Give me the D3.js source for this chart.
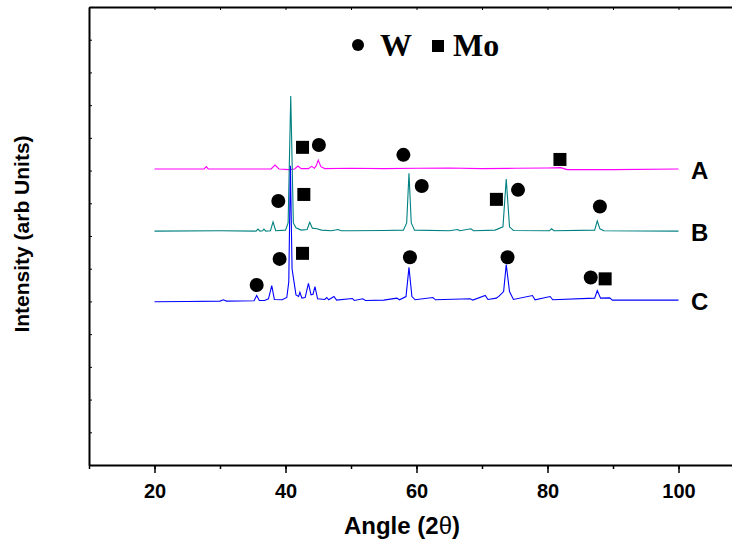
<!DOCTYPE html>
<html>
<head>
<meta charset="utf-8">
<script src="https://cdn.jsdelivr.net/npm/d3@7"></script>
<style>
    body { margin: 0; background: #fff; }
    svg { display: block; }
    .axis path, .axis line { stroke: #000; }
    .axis text { font-family: "Liberation Sans", Arial, sans-serif; font-weight: bold; font-size: 20px; fill: #000; }
</style>
</head>
<body>
<div id="xrd"></div>
<script>
// patterns: [angle 2theta, intensity (arb)]
var seriesA = [[20,905],[27.6,905],[27.9,912],[28.2,905],[37.8,905],[38.4,917],[39.0,905],[40.5,903],[41.4,905],
    [41.9,914],[42.4,906],[43.5,906],[44.0,913],[44.4,907],[44.7,915],[45.0,932],[45.4,912],[46,906],[50,907],
    [55,906],[60,907],[65,908],[70,906],[75,907],[80,908],[82,909],[83,903],[90,903],[100,905]];

var seriesB = [[20,715],[30,716],[35.5,715],[35.8,721],[36.1,715],[36.5,716],[36.7,721],[37.0,715],[37.7,716],
    [38.1,743],[38.5,716],[40.0,718],[40.4,740],[40.8,1128],[41.2,740],[41.6,725],[42.4,718],[43.3,720],[43.7,742],
    [44.1,724],[44.8,722],[45.5,718],[47,716],[48,720],[48.5,716],[50,716],[55,717],[58.0,718],[58.5,740],
    [58.85,892],[59.2,740],[59.7,718],[65,716],[66.3,720],[66.6,716],[68.3,722],[68.7,716],[72,718],[73.2,728],
    [73.7,874],[74.2,728],[74.8,717],[80.3,716],[80.6,722],[81,716],[87.2,718],[87.6,746],[88.0,722],[88.6,716],
    [100,715]];

var seriesC = [[20,499],[25,500],[30,501],[30.5,505],[31,501],[35.2,502],[35.6,518],[36.0,503],[36.8,503],
    [37.4,508],[37.9,548],[38.3,506],[39.5,505],[40.2,512],[40.5,560],[40.75,915],[41.0,600],[41.3,560],
    [41.6,520],[42.0,515],[42.2,528],[42.5,510],[43.0,512],[43.5,555],[43.9,520],[44.2,522],[44.5,545],
    [44.9,508],[46,506],[46.3,512],[46.6,505],[47.4,515],[47.8,504],[50.2,509],[50.5,503],[51.8,508],
    [52.2,503],[55,504],[57.0,510],[57.4,505],[58.4,515],[58.85,604],[59.3,515],[59.8,505],[62.5,512],
    [62.9,505],[68.2,508],[68.6,504],[70.5,518],[70.9,506],[72.2,510],[72.6,516],[73.3,530],[73.7,613],
    [74.2,530],[74.8,506],[77.7,518],[78.1,505],[80.4,515],[80.8,505],[87.2,510],[87.6,533],[88.1,510],
    [89.5,511],[89.9,504],[100,504]];

var seriesNames = ['A', 'B', 'C'];
var seriesColors = ['#ff00ff', '#008080', '#0000ff'];
var seriesBase = [905, 715, 503];

// phase markers
var wMarks = [[45.1,978],[58.0,948],[38.9,807],[60.8,853],[75.5,841],[88.0,790],
    [35.6,550],[39.1,630],[59.0,635],[73.9,635],[86.6,573]];
var moMarks = [[42.6,971],[81.9,934],[42.8,827],[72.2,812],[42.6,647],[88.8,569]];

var xTicks = [20, 40, 60, 80, 100];
var xMinor = d3.range(10, 111, 10);
var yTicks = d3.range(0, 1401, 100);

var width = 732, height = 540;
var svg = d3.select('#xrd')
    .append('svg')
    .attr('width', width)
    .attr('height', height);

var x = d3.scaleLinear().domain([10, 110]).range([89, 744]);
var y = d3.scaleLinear().domain([0, 1400]).range([465, 7]);

// frame: bottom minor, bottom major, top, left
svg.append('g')
    .attr('class', 'axis')
    .attr('transform', 'translate(0,' + y(0) + ')')
    .call(d3.axisBottom(x).tickValues(xMinor).tickSize(4).tickFormat(''))
    .call(g => g.select('.domain').remove())
    .selectAll('line').attr('stroke-width', 1.5);

svg.append('g')
    .attr('class', 'axis')
    .attr('transform', 'translate(0,' + y(0) + ')')
    .call(d3.axisBottom(x).tickValues(xTicks).tickSizeInner(8).tickSizeOuter(0).tickFormat(d3.format('d')))
    .call(g => g.select('.domain').attr('stroke-width', 2))
    .call(g => g.selectAll('line').attr('stroke-width', 1.5))
    .call(g => g.selectAll('text').attr('dy', 0).attr('y', 33));

svg.append('g')
    .attr('class', 'axis')
    .attr('transform', 'translate(0,' + y(1400) + ')')
    .call(d3.axisTop(x).tickValues(xMinor).tickSizeInner(-3).tickSizeOuter(0).tickFormat(''))
    .call(g => g.select('.domain').attr('stroke-width', 2));

svg.append('g')
    .attr('class', 'axis')
    .attr('transform', 'translate(' + x(10) + ',0)')
    .call(d3.axisLeft(y).tickValues(yTicks).tickSizeInner(-3).tickSizeOuter(0).tickFormat(''))
    .call(g => g.select('.domain').attr('stroke-width', 2));

// patterns
var line = d3.line()
    .x(function (d) { return x(d[0]); })
    .y(function (d) { return y(d[1]); });

[seriesA, seriesB, seriesC].forEach(function (s, i) {
    svg.append('path')
        .datum(s)
        .attr('fill', 'none')
        .attr('stroke', seriesColors[i])
        .attr('stroke-width', 1.1)
        .attr('d', line);
});

// labels A B C
svg.selectAll('.slabel')
    .data(seriesNames)
    .enter()
    .append('text')
    .attr('class', 'slabel')
    .attr('x', 691)
    .attr('y', function (d, i) { return y(seriesBase[i]) + 10; })
    .attr('font-family', '"Liberation Sans", Arial, sans-serif')
    .attr('font-weight', 'bold')
    .attr('font-size', 24)
    .text(d => d);

// markers
svg.selectAll('.wmark')
    .data(wMarks)
    .enter()
    .append('circle')
    .attr('cx', d => x(d[0]))
    .attr('cy', d => y(d[1]))
    .attr('r', 7)
    .attr('fill', '#000');

svg.selectAll('.momark')
    .data(moMarks)
    .enter()
    .append('rect')
    .attr('x', d => x(d[0]) - 6.5)
    .attr('y', d => y(d[1]) - 6.5)
    .attr('width', 13)
    .attr('height', 13)
    .attr('fill', '#000');

// legend
var legend = svg.append('g');
legend.append('circle').attr('cx', 358).attr('cy', 45).attr('r', 6).attr('fill', '#000');
legend.append('text').attr('x', 380).attr('y', 56)
    .attr('font-family', '"Liberation Serif", "Times New Roman", serif')
    .attr('font-weight', 'bold').attr('font-size', 32).text('W');
legend.append('rect').attr('x', 432).attr('y', 40).attr('width', 12).attr('height', 12).attr('fill', '#000');
legend.append('text').attr('x', 453).attr('y', 56)
    .attr('font-family', '"Liberation Serif", "Times New Roman", serif')
    .attr('font-weight', 'bold').attr('font-size', 32).text('Mo');

// axis titles
var xTitle = svg.append('text')
    .attr('x', 402)
    .attr('y', 534)
    .attr('text-anchor', 'middle')
    .attr('font-family', '"Liberation Sans", Arial, sans-serif')
    .attr('font-weight', 'bold')
    .attr('font-size', 24);
xTitle.append('tspan').text('Angle (2');
xTitle.append('tspan').attr('font-weight', 'normal').text('θ');
xTitle.append('tspan').text(')');

svg.append('text')
    .attr('transform', 'translate(29,234) rotate(-90)')
    .attr('text-anchor', 'middle')
    .attr('font-family', '"Liberation Sans", Arial, sans-serif')
    .attr('font-weight', 'bold')
    .attr('font-size', 21)
    .text('Intensity (arb Units)');
</script>
</body>
</html>
